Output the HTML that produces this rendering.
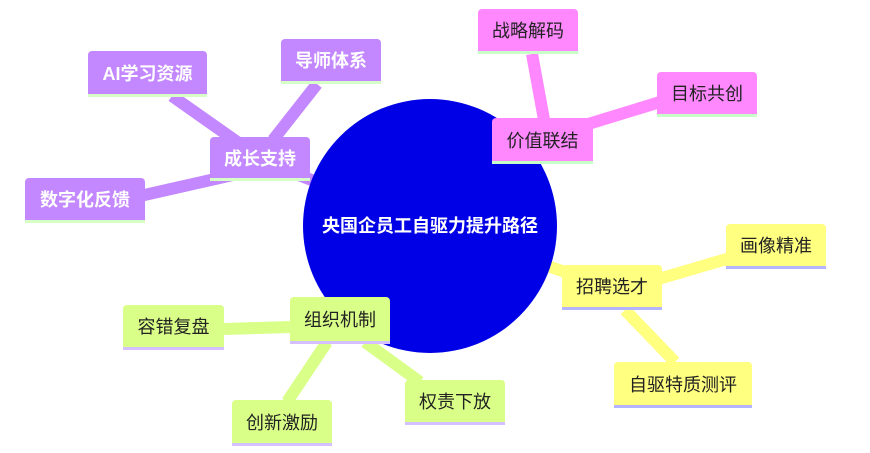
<!DOCTYPE html>
<html><head><meta charset="utf-8"><style>
body{margin:0;background:#fff;}
.n{position:absolute;box-sizing:border-box;border-radius:4px 4px 0 0;font:18px "Liberation Sans","Noto Sans CJK SC",sans-serif;display:flex;align-items:center;justify-content:center;}
.p{background:#c387ff;color:#fff;border-bottom:3px solid #d6ffc8;font-weight:bold;}
.k{background:#ff88ff;color:#222;border-bottom:3px solid #c8ffc8;}
.y{background:#ffff80;color:#222;border-bottom:3px solid #b4b4ff;}
.g{background:#d9ff88;color:#222;border-bottom:3px solid #d4c0ff;}
</style></head><body>
<div style="position:relative;width:870px;height:453px;overflow:hidden">
<svg width="870" height="453" style="position:absolute;left:0;top:0" stroke-linecap="butt">
<g stroke="#c387ff" stroke-width="12">
<line x1="260" y1="160" x2="430" y2="226"/>
<line x1="260" y1="158" x2="172" y2="96"/>
<line x1="273" y1="140" x2="317" y2="84"/>
<line x1="255" y1="170" x2="140" y2="196"/>
</g>
<g stroke="#ff88ff" stroke-width="12">
<line x1="542" y1="140" x2="430" y2="226"/>
<line x1="545" y1="125" x2="532" y2="54"/>
<line x1="585" y1="125" x2="660" y2="102"/>
</g>
<g stroke="#ffff80" stroke-width="12">
<line x1="612" y1="288" x2="430" y2="226"/>
<line x1="655" y1="280" x2="730" y2="258"/>
<line x1="625" y1="310" x2="675" y2="362"/>
</g>
<g stroke="#d9ff88" stroke-width="12">
<line x1="340" y1="320" x2="430" y2="226"/>
<line x1="290" y1="327" x2="224" y2="329"/>
<line x1="327" y1="342" x2="287" y2="402"/>
<line x1="365" y1="342" x2="420" y2="382"/>
</g>
<circle cx="430" cy="226" r="127" fill="#0000e6"/>
<text x="430" y="232" fill="#fff" font-family="Liberation Sans,Noto Sans CJK SC,sans-serif" font-size="18" font-weight="bold" text-anchor="middle">央国企员工自驱力提升路径</text>
</svg>
<div class="n p" style="left:210px;top:137px;width:100px;height:44px">成长支持</div>
<div class="n p" style="left:88px;top:51px;width:119px;height:46px">AI学习资源</div>
<div class="n p" style="left:281px;top:39px;width:100px;height:45px">导师体系</div>
<div class="n p" style="left:25px;top:178px;width:120px;height:45px">数字化反馈</div>
<div class="n k" style="left:492px;top:118px;width:101px;height:46px">价值联结</div>
<div class="n k" style="left:478px;top:9px;width:100px;height:45px">战略解码</div>
<div class="n k" style="left:657px;top:72px;width:100px;height:45px">目标共创</div>
<div class="n y" style="left:562px;top:265px;width:100px;height:45px">招聘选才</div>
<div class="n y" style="left:726px;top:224px;width:100px;height:45px">画像精准</div>
<div class="n y" style="left:614px;top:362px;width:138px;height:46px">自驱特质测评</div>
<div class="n g" style="left:290px;top:297px;width:100px;height:47px">组织机制</div>
<div class="n g" style="left:123px;top:305px;width:101px;height:45px">容错复盘</div>
<div class="n g" style="left:232px;top:400px;width:100px;height:46px">创新激励</div>
<div class="n g" style="left:405px;top:380px;width:100px;height:45px">权责下放</div>
</div>
</body></html>
